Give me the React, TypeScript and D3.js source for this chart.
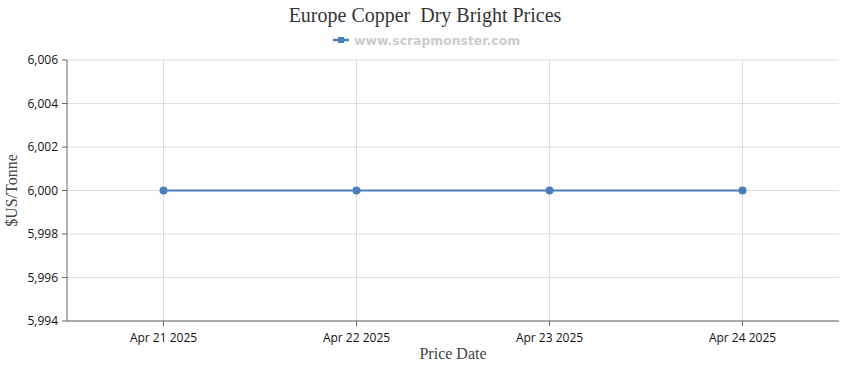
import * as d3 from "d3";

const categories = ["Apr 21 2025", "Apr 22 2025", "Apr 23 2025", "Apr 24 2025"];
const prices = [6000, 6000, 6000, 6000];
const yTicks = [5994, 5996, 5998, 6000, 6002, 6004, 6006];

const width = 850;
const height = 370;
const margin = { top: 60, right: 11, bottom: 49, left: 67 };
const lineColor = "#4a7ebb";

export default function App() {
  const x = d3
    .scalePoint<string>()
    .domain(categories)
    .range([margin.left, width - margin.right])
    .padding(0.5);
  const y = d3
    .scaleLinear()
    .domain([5994, 6006])
    .range([height - margin.bottom, margin.top]);

  const line = d3
    .line<number>()
    .x((_, i) => x(categories[i]) as number)
    .y((d) => y(d));

  const tickFont = "'Open Sans', sans-serif";

  return (
    <svg
      width={width}
      height={height}
      style={{ position: "absolute", left: 0, top: 0 }}
    >
      <text
        x={425}
        y={22}
        textAnchor="middle"
        fontFamily="'Liberation Serif', serif"
        fontSize={20}
        fill="#333"
        style={{ whiteSpace: "pre" }}
      >
        {"Europe Copper  Dry Bright Prices"}
      </text>
      <g transform="translate(0,40)">
        <line x1={333} x2={349} y1={0} y2={0} stroke={lineColor} strokeWidth={2.5} />
        <rect x={338} y={-3} width={6} height={6} fill={lineColor} />
        <text
          x={354}
          y={4.5}
          fontFamily="'DejaVu Sans', sans-serif"
          fontWeight="bold"
          fontSize={12.4}
          fill="#cccccc"
        >
          www.scrapmonster.com
        </text>
      </g>

      {yTicks.map((t) => (
        <g key={t}>
          <line x1={margin.left} x2={width - margin.right} y1={y(t)} y2={y(t)} stroke="#dddddd" />
          <line x1={margin.left - 5} x2={margin.left} y1={y(t)} y2={y(t)} stroke="#666" />
          <text
            x={margin.left - 9}
            y={y(t)}
            dy="0.35em"
            textAnchor="end"
            fontFamily={tickFont}
            fontSize={12}
            fill="#111"
          >
            {d3.format(",")(t)}
          </text>
        </g>
      ))}
      {categories.map((c) => (
        <g key={c}>
          <line x1={x(c)} x2={x(c)} y1={margin.top} y2={height - margin.bottom} stroke="#dddddd" />
          <line x1={x(c)} x2={x(c)} y1={height - margin.bottom} y2={height - margin.bottom + 5} stroke="#666" />
          <text
            x={x(c)}
            y={height - margin.bottom + 21}
            textAnchor="middle"
            fontFamily={tickFont}
            fontSize={12}
            fill="#111"
          >
            {c}
          </text>
        </g>
      ))}
      <line x1={margin.left} x2={margin.left} y1={margin.top} y2={height - margin.bottom} stroke="#666" />
      <line
        x1={margin.left}
        x2={width - margin.right}
        y1={height - margin.bottom}
        y2={height - margin.bottom}
        stroke="#666"
      />

      <path d={line(prices) ?? ""} fill="none" stroke={lineColor} strokeWidth={2} />
      {prices.map((p, i) => (
        <circle key={i} cx={x(categories[i])} cy={y(p)} r={4} fill={lineColor} />
      ))}

      <text
        x={453}
        y={359}
        textAnchor="middle"
        fontFamily="'Liberation Serif', serif"
        fontSize={16}
        fill="#444"
      >
        Price Date
      </text>
      <text
        transform={`translate(17,${(margin.top + height - margin.bottom) / 2}) rotate(-90)`}
        textAnchor="middle"
        fontFamily="'Liberation Serif', serif"
        fontSize={16}
        fill="#444"
      >
        $US/Tonne
      </text>
    </svg>
  );
}
